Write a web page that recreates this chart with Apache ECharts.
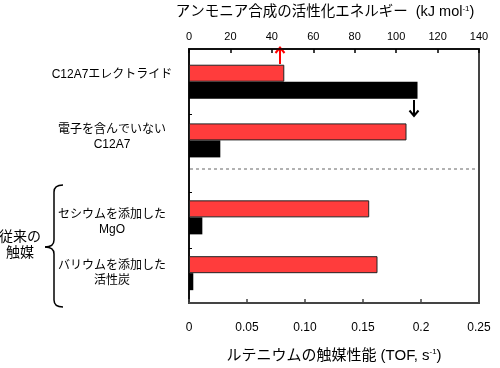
<!DOCTYPE html>
<html>
<head>
<meta charset="utf-8">
<script src="https://cdn.jsdelivr.net/npm/echarts@6/dist/echarts.min.js"></script>
<style>html,body{margin:0;padding:0;background:#fff}#c{width:500px;height:368px}</style>
</head>
<body>
<div id="c"></div>
<script>
// ---- data ----
var categories = ['C12A7エレクトライド', '電子を含んでいない\nC12A7', 'セシウムを添加した\nMgO', 'バリウムを添加した\n活性炭'];
var activationEnergy = [46, 105, 87, 91];      // kJ mol-1 (top axis, red)
var tofValues = [0.197, 0.027, 0.0115, 0.0037]; // s-1 (bottom axis, black)
var topTicks = ['0', '20', '40', '60', '80', '100', '120', '140'];
var bottomTicks = ['0', '0.05', '0.10', '0.15', '0.2', '0.25'];
var groupLabel = '従来の\n触媒';

// ---- layout (slot positions on the fine-grained category axis) ----
var slotCount = 265;
var slotIndex = [34, 95, 175, 233];
var tickSlots = [68, 149, 207];
var labelStyleKey = ['up', 'up2', 'down', 'n'];

var axisCats = [], redData = [], blackData = [];
for (var i = 0; i < slotCount; i++) { axisCats.push(''); redData.push('-'); blackData.push('-'); }
slotIndex.forEach(function (s, k) {
  axisCats[s] = categories[k];
  redData[s] = activationEnergy[k];
  blackData[s] = tofValues[k];
});

var FONT = '"Liberation Sans", "Noto Sans CJK JP", sans-serif';
var bracketStyle = {stroke: '#000', lineWidth: 1.5, fill: null};
var lbl = {fontSize: 12, lineHeight: 15, color: '#000', fontFamily: FONT, align: 'center'};
var chart = echarts.init(document.getElementById('c'), null, {renderer: 'canvas'});
chart.setOption({
  backgroundColor: '#fff',
  textStyle: {fontFamily: FONT, color: '#000'},
  grid: {left: 189, right: 21, top: 44, bottom: 60, show: true, borderColor: '#444', borderWidth: 2, backgroundColor: 'transparent'},
  xAxis: [{
    type: 'value', position: 'top', min: 0, max: 140, interval: 20,
    axisLine: {show: true, lineStyle: {color: '#000', width: 1.5}},
    axisTick: {show: true, inside: true, length: 4, lineStyle: {color: '#000', width: 1.5}},
    splitLine: {show: false},
    axisLabel: {fontSize: 11, color: '#000', margin: 7, fontFamily: FONT,
      formatter: function (v) { return topTicks[Math.round(v / 20)]; }},
    name: '{a|アンモニア合成の活性化エネルギー  (kJ mol}{s|-1}{a|)}',
    nameLocation: 'middle', nameGap: 29,
    nameTextStyle: {padding: [0, 18, 0, 0], rich: {a: {fontSize: 14.5, color: '#000', fontFamily: FONT}, s: {fontSize: 8, color: '#000', verticalAlign: 'top', padding: [0, 0, 7, 0], fontFamily: FONT}}}
  }, {
    type: 'value', position: 'bottom', min: 0, max: 0.25, interval: 0.05,
    axisLine: {show: true, lineStyle: {color: '#444', width: 2}},
    axisTick: {show: true, inside: true, length: 4, lineStyle: {color: '#444', width: 1.5}},
    splitLine: {show: false},
    axisLabel: {fontSize: 12, color: '#000', margin: 19, fontFamily: FONT,
      formatter: function (v) { return bottomTicks[Math.round(v / 0.05)]; }},
    name: '{a|ルテニウムの触媒性能 (TOF, s}{s|-1}{a|)}',
    nameLocation: 'middle', nameGap: 45,
    nameTextStyle: {rich: {a: {fontSize: 15, color: '#000', fontFamily: FONT}, s: {fontSize: 8, color: '#000', verticalAlign: 'top', padding: [0, 0, 7, 0], fontFamily: FONT}}}
  }],
  yAxis: {
    type: 'category', data: axisCats, inverse: true, boundaryGap: false,
    axisLine: {show: true, lineStyle: {color: '#000', width: 1.5}},
    axisTick: {show: true, inside: true, length: 3, lineStyle: {color: '#000', width: 1},
      interval: function (idx) { return tickSlots.indexOf(idx) >= 0; }},
    splitLine: {show: false},
    axisLabel: {interval: 0, margin: 77, align: 'center', fontSize: 12, lineHeight: 15, color: '#000', fontFamily: FONT, hideOverlap: false,
      formatter: function (v, idx) {
        var k = slotIndex.indexOf(idx);
        if (k < 0 || !v) return '';
        return v.split('\n').map(function (line) { return '{' + labelStyleKey[k] + '|' + line + '}'; }).join('\n');
      },
      rich: {
        n: lbl,
        up: Object.assign({}, lbl, {padding: [0, 0, 14, 0]}),
        up2: Object.assign({}, lbl, {padding: [0, 0, 6, 0]}),
        down: Object.assign({}, lbl, {padding: [10, 0, 0, 0]})
      }}
  },
  series: [{
    type: 'bar', name: 'activation', xAxisIndex: 0, yAxisIndex: 0, data: redData,
    barWidth: 17, barGap: '0%',
    itemStyle: {color: '#ff3c3c', borderColor: '#222', borderWidth: 1}
  }, {
    type: 'bar', name: 'tof', xAxisIndex: 1, yAxisIndex: 0, data: blackData,
    barWidth: 17, barGap: '0%',
    itemStyle: {color: '#000', borderColor: '#000', borderWidth: 0}
  }],
  graphic: [
    {type: 'line', shape: {x1: 190, y1: 169, x2: 478, y2: 169}, style: {stroke: '#999', lineWidth: 1.5, lineDash: [3, 3]}},
    {type: 'line', shape: {x1: 280, y1: 64, x2: 280, y2: 48}, style: {stroke: '#f00', lineWidth: 2}},
    {type: 'polyline', shape: {points: [[275.5, 53], [280, 47.5], [284.5, 53]]}, style: {stroke: '#f00', lineWidth: 2, fill: null}},
    {type: 'line', shape: {x1: 414, y1: 100, x2: 414, y2: 116}, style: {stroke: '#000', lineWidth: 2}},
    {type: 'polyline', shape: {points: [[409.5, 110.5], [414, 116], [418.5, 110.5]]}, style: {stroke: '#000', lineWidth: 2, fill: null}},
    {type: 'bezierCurve', shape: {x1: 63, y1: 185, x2: 54, y2: 192, cpx1: 54, cpy1: 185}, style: bracketStyle},
    {type: 'line', shape: {x1: 54, y1: 192, x2: 54, y2: 240}, style: bracketStyle},
    {type: 'bezierCurve', shape: {x1: 54, y1: 240, x2: 45, y2: 247, cpx1: 54, cpy1: 247}, style: bracketStyle},
    {type: 'bezierCurve', shape: {x1: 45, y1: 247, x2: 54, y2: 254, cpx1: 54, cpy1: 247}, style: bracketStyle},
    {type: 'line', shape: {x1: 54, y1: 254, x2: 54, y2: 300}, style: bracketStyle},
    {type: 'bezierCurve', shape: {x1: 54, y1: 300, x2: 63, y2: 307, cpx1: 54, cpy1: 307}, style: bracketStyle},
    {type: 'text', x: 20, y: 245, style: {text: groupLabel, font: '14px ' + FONT, fill: '#000', textAlign: 'center', textVerticalAlign: 'middle', lineHeight: 16}}
  ]
});
</script>
</body>
</html>
